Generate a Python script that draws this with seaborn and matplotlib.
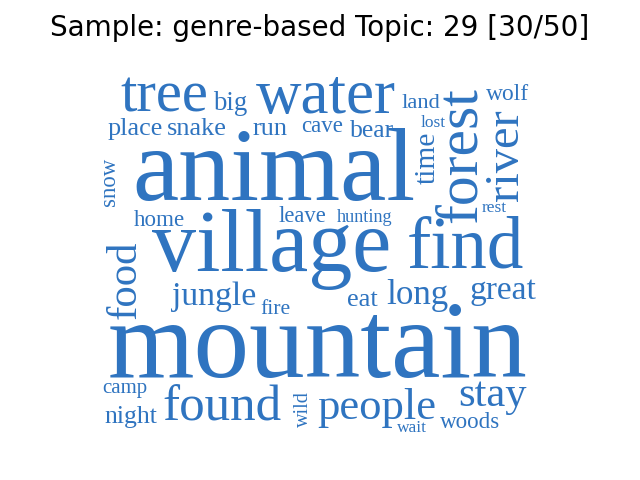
import matplotlib
matplotlib.use("Agg")
import matplotlib.pyplot as plt
import seaborn as sns

TITLE = "Sample: genre-based Topic: 29 [30/50]"
WORD_COLOR = "#2f74c0"

# words and their visual size (length of the word in pixels)
words = ["tree", "big", "water", "land", "wolf", "place", "snake", "run", "cave", "bear",
         "lost", "forest", "river", "time", "snow", "animal", "home", "leave", "hunting",
         "rest", "village", "find", "food", "jungle", "long", "great", "fire", "eat",
         "mountain", "camp", "found", "wild", "people", "stay", "night", "wait", "woods"]
lengths = [88, 34, 140, 39, 43, 55, 60, 35, 42, 44,
           25, 135, 92, 52, 48, 285, 51, 48, 56,
           25, 240, 118, 78, 84, 62, 67, 30, 31,
           420, 45, 119, 36, 118, 69, 53, 30, 60]

# layout of the cloud: centre (x, y) in pixels and orientation
centers = [(164, 97), (230, 103), (326, 98), (421, 103), (508, 95), (135, 129), (197, 129),
           (270, 129), (322, 127), (372, 131), (433, 123), (462, 155), (506, 155), (428, 158),
           (109, 182), (274, 175), (159, 220), (302, 217), (365, 217), (494, 208), (272, 250),
           (465, 250), (125, 280), (214, 297), (417, 295), (503, 291), (275, 310), (362, 300),
           (317, 350), (125, 389), (222, 408), (303, 409), (377, 408), (492, 396), (131, 417),
           (412, 428), (470, 423)]
vertical = {"forest", "river", "time", "snow", "food", "wild"}

sns.set_theme(style="white")
fig = plt.figure(figsize=(6.4, 4.8), dpi=100)
ax = fig.add_axes([0, 0, 1, 1])
ax.set_xlim(0, 640)
ax.set_ylim(480, 0)
ax.axis("off")

fig.text(0.5, 1 - 28 / 480, TITLE, ha="center", va="center", fontsize=20,
         family="DejaVu Sans", color="black")

renderer = fig.canvas.get_renderer()
for w, length, (cx, cy) in zip(words, lengths, centers):
    rot = 90 if w in vertical else 0
    t = ax.text(cx, cy, w, ha="center", va="center", rotation=rot, fontsize=10,
                family="Liberation Serif", color=WORD_COLOR)
    bb = t.get_window_extent(renderer)
    size = bb.height if rot else bb.width
    t.set_fontsize(10 * length / size)

fig.savefig("out.png", dpi=100)
